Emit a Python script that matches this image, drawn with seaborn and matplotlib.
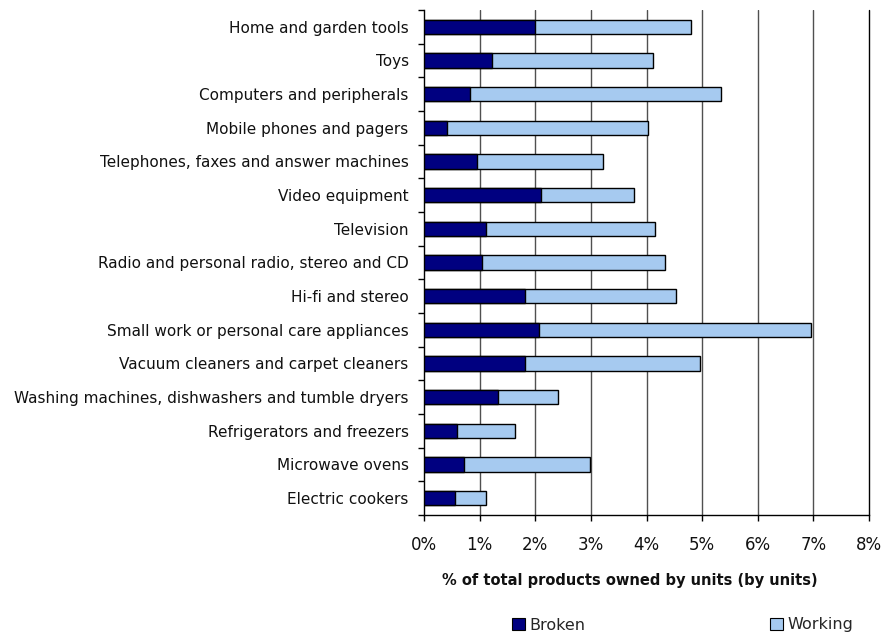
import matplotlib
matplotlib.use("Agg")
import matplotlib.pyplot as plt
import matplotlib.ticker as mticker
from matplotlib.patches import Patch
import numpy as np
import pandas as pd
import seaborn as sns

categories = [
    "Home and garden tools",
    "Toys",
    "Computers and peripherals",
    "Mobile phones and pagers",
    "Telephones, faxes and answer machines",
    "Video equipment",
    "Television",
    "Radio and personal radio, stereo and CD",
    "Hi-fi and stereo",
    "Small work or personal care appliances",
    "Vacuum cleaners and carpet cleaners",
    "Washing machines, dishwashers and tumble dryers",
    "Refrigerators and freezers",
    "Microwave ovens",
    "Electric cookers",
]
broken = [2.00, 1.22, 0.82, 0.42, 0.95, 2.10, 1.12, 1.05, 1.81, 2.07, 1.81, 1.33, 0.59, 0.72, 0.56]
working = [2.80, 2.89, 4.52, 3.60, 2.27, 1.67, 3.04, 3.28, 2.72, 4.88, 3.15, 1.08, 1.05, 2.26, 0.55]
x_ticks = [0, 1, 2, 3, 4, 5, 6, 7, 8]

NAVY = "#000080"
LIGHT = "#A6CAF0"

df = pd.DataFrame({"category": categories, "broken": broken, "working": working})
df["total"] = df["broken"] + df["working"]

sns.set_theme(style="white")
plt.rcParams["font.family"] = ["DejaVu Sans"]

fig = plt.figure(figsize=(8.84, 6.39), dpi=100)
ax = fig.add_axes([424 / 884, 1 - 515 / 639, 445 / 884, 505 / 639])

# Stacked bars: full length (working on top of broken) first, broken segment over it
sns.barplot(data=df, x="total", y="category", color=LIGHT, edgecolor="black",
            linewidth=1.0, width=0.42, saturation=1, ax=ax, zorder=3)
sns.barplot(data=df, x="broken", y="category", color=NAVY, edgecolor="black",
            linewidth=1.0, width=0.42, saturation=1, ax=ax, zorder=4)

ax.set_xlim(0, 8)
ax.set_ylim(len(categories) - 0.5, -0.5)
ax.set_xticks(x_ticks)
ax.xaxis.set_major_formatter(mticker.FuncFormatter(lambda v, p: f"{v:.0f}%"))

# vertical gridlines; the last one closes the plot area on the right
for v in x_ticks[1:-1]:
    ax.axvline(v, color="#505050", lw=1.0, zorder=1)
ax.axvline(x_ticks[-1], color="black", lw=1.0, zorder=1, clip_on=False)

for s in ["top", "right"]:
    ax.spines[s].set_visible(False)
for s in ["left", "bottom"]:
    ax.spines[s].set_color("black")
    ax.spines[s].set_linewidth(1.0)

ax.tick_params(axis="x", which="major", direction="out", length=4, width=1,
               color="black", labelsize=12, pad=11, bottom=True)
ax.tick_params(axis="y", which="major", length=0, labelsize=11, pad=11)
ax.set_yticks(np.arange(-0.5, len(categories), 1.0), minor=True)
ax.tick_params(axis="y", which="minor", direction="out", length=4, width=1,
               color="black", left=True)
for lab in ax.get_yticklabels():
    lab.set_color("#111111")
for lab in ax.get_xticklabels():
    lab.set_color("#111111")

ax.set_ylabel("")
ax.set_xlabel("% of total products owned by units (by units)", fontsize=10.5,
              fontweight="bold", color="#111111")
ax.xaxis.set_label_coords((630 - 424) / 445, -(580 - 515) / 505)
ax.xaxis.label.set_verticalalignment("center")

h_broken = Patch(facecolor=NAVY, edgecolor="black", linewidth=0.8, label="Broken")
h_working = Patch(facecolor=LIGHT, edgecolor="black", linewidth=0.8, label="Working")
for h, xpos in [(h_broken, 512 / 884), (h_working, 770 / 884)]:
    fig.legend(handles=[h], loc="center left", bbox_to_anchor=(xpos, 1 - 625 / 639),
               frameon=False, fontsize=11.5, handlelength=0.8, handleheight=0.8,
               handletextpad=0.3, borderpad=0, borderaxespad=0)

fig.savefig("out.png", dpi=100)
